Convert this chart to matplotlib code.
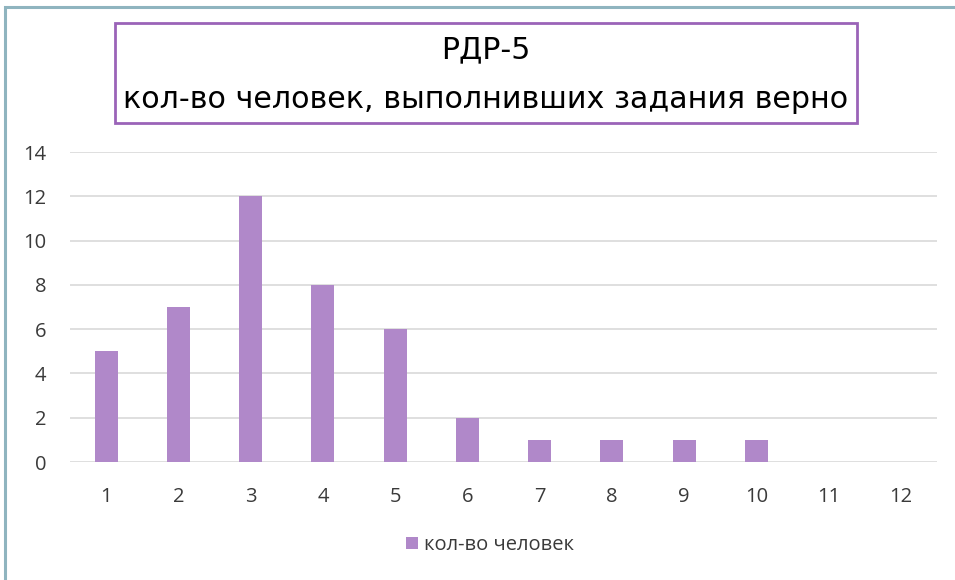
import numpy as np
import matplotlib.pyplot as plt
from matplotlib.patches import Rectangle

#----データ--------------------------------------------------------------
TASKS=[str(i) for i in range(1,13)]
COUNTS=[5,7,12,8,6,2,1,1,1,1,0,0]
YTICKS=[0,2,4,6,8,10,12,14]
TITLE1='РДР-5'
TITLE2='кол-во человек, выполнивших задания верно'
LEGEND='кол-во человек'
#----描画---------------------------------------------------------------
W,H=955,580
fig=plt.figure(figsize=(W/100,H/100),dpi=100)
fig.patch.set_facecolor('white')

# outer chart border
fig.patches.append(Rectangle((5/W,-0.05),1.2,(1-7/H)+0.05,transform=fig.transFigure,
                             fill=False,edgecolor='#8fb4bf',linewidth=2.2))

ax=fig.add_axes([70/W,1-462/H,867/W,310/H])
x=np.arange(1,len(TASKS)+1)
ax.bar(x,COUNTS,width=0.32,color='#b088c9',label=LEGEND,zorder=2)
ax.set_xlim(0.5,len(TASKS)+0.5)
ax.set_ylim(0,14)
ax.set_yticks(YTICKS)
ax.set_xticks(x)
ax.set_xticklabels(TASKS)
ax.yaxis.grid(True,color='#d9d9d9',linewidth=1.2,zorder=0)
for s in ax.spines.values():
  s.set_visible(False)
ax.tick_params(length=0,labelsize=14.5,labelcolor='#3a3a3a')
ax.tick_params(axis='x',pad=18)
ax.tick_params(axis='y',pad=17)
for lab in ax.get_xticklabels()+ax.get_yticklabels():
  lab.set_fontfamily('Open Sans')

# title box
fig.patches.append(Rectangle((115/W,1-123/H),742/W,100/H,transform=fig.transFigure,
                             fill=False,edgecolor='#9a63b8',linewidth=2))
fig.text(486/W,1-50/H,TITLE1,ha='center',va='center',fontsize=21.5,color='black')
fig.text(486/W,1-100/H,TITLE2,ha='center',va='center',fontsize=21.7,color='black')

leg=fig.legend(loc='center',bbox_to_anchor=(490/W,1-545/H),frameon=False,
               prop={'family':'Open Sans','size':14.5},handlelength=0.6,handleheight=0.6,
               handletextpad=0.3)
for t in leg.get_texts():
  t.set_color('#3a3a3a')

plt.savefig('out.png',dpi=100)
plt.close()
